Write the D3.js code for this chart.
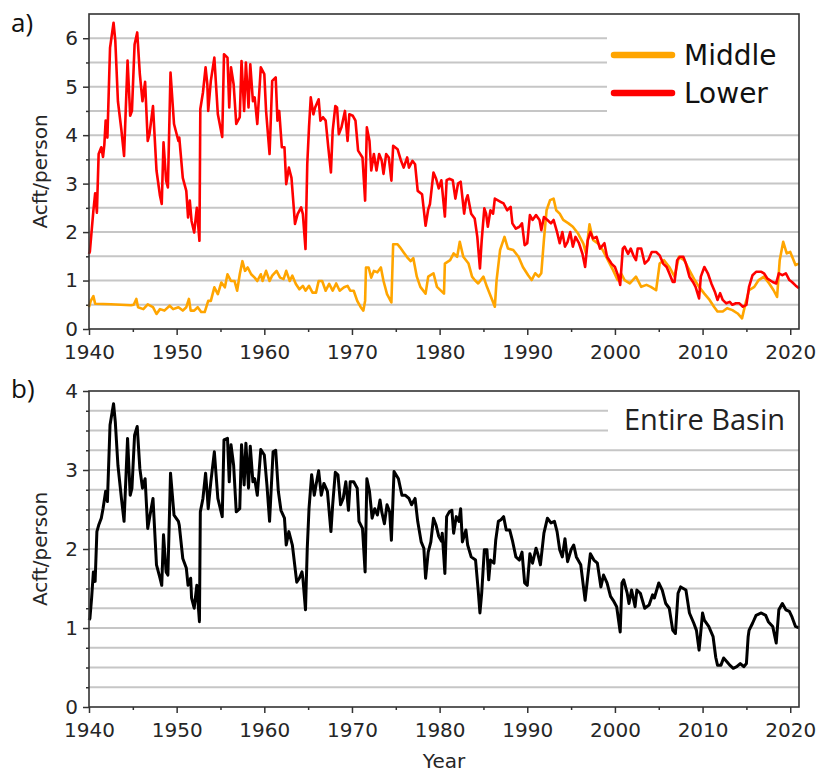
<!DOCTYPE html>
<meta charset="utf-8">
<style>
body { margin: 0; background: #fff; }
svg text { font-family: "DejaVu Sans", sans-serif; fill: #262626; }
.grid line { stroke: #c6c6c6; stroke-width: 2; }
.axis path { display: none; }
.axis line { stroke: #333; stroke-width: 1.5; }
.axis text { font-size: 20px; fill: #262626; }
.frame { fill: none; stroke: #333; stroke-width: 1.6; }
.series { fill: none; stroke-linejoin: round; }
.label { font-size: 20px; }
.legend text { font-size: 28px; fill: #111; }
.panel-tag { font-family: "Open Sans", sans-serif; font-size: 26px; fill: #111; }
.basin-tag { font-family: "Open Sans", sans-serif; font-size: 29px; fill: #222; }
</style>
<body>
<div id="main"></div>
<script src="https://cdn.jsdelivr.net/npm/d3@7"></script>
<script>
// values: [year, acre-feet per person]
var middle = [
	[1940.0,0.45],[1940.2,0.58],[1940.5,0.68],[1940.7,0.52],[1942.5,0.51],[1944.8,0.49],[1945.1,0.5],[1945.4,0.62],
	[1945.6,0.45],[1946.2,0.41],[1946.7,0.51],[1947.3,0.45],[1947.7,0.31],[1948.1,0.41],[1948.6,0.38],[1949.2,0.48],
	[1949.6,0.41],[1950.2,0.45],[1950.7,0.38],[1951.1,0.45],[1951.4,0.62],[1951.6,0.38],[1952.0,0.38],[1952.4,0.45],
	[1952.8,0.35],[1953.2,0.35],[1953.6,0.58],[1953.9,0.58],[1954.3,0.86],[1954.7,0.72],[1955.1,0.96],[1955.5,0.86],
	[1955.8,1.13],[1956.2,0.99],[1956.6,0.99],[1956.9,0.79],[1957.2,1.13],[1957.5,1.4],[1957.8,1.2],[1958.1,1.27],
	[1958.5,1.13],[1958.9,1.06],[1959.2,0.99],[1959.6,1.13],[1959.8,0.99],[1960.2,1.2],[1960.6,0.99],[1960.9,1.1],
	[1961.4,1.2],[1961.8,1.06],[1962.2,1.03],[1962.5,1.2],[1962.9,0.99],[1963.2,1.1],[1963.6,0.93],[1964.0,0.82],
	[1964.4,0.89],[1964.7,0.79],[1965.1,0.89],[1965.5,0.75],[1965.9,0.75],[1966.2,0.99],[1966.6,0.99],[1967.0,0.79],
	[1967.4,0.93],[1967.8,0.79],[1968.2,0.94],[1968.6,0.79],[1969.1,0.86],[1969.5,0.89],[1969.8,0.79],[1970.2,0.79],
	[1970.6,0.58],[1971.0,0.45],[1971.3,0.38],[1971.5,0.58],[1971.6,1.27],[1971.9,1.27],[1972.2,1.06],[1972.5,1.2],
	[1972.9,1.17],[1973.3,1.27],[1973.6,0.99],[1974.0,0.72],[1974.5,0.55],[1974.7,1.75],[1975.2,1.75],[1975.5,1.68],
	[1975.9,1.58],[1976.3,1.48],[1976.7,1.4],[1977.0,1.46],[1977.4,1.08],[1977.8,0.87],[1978.4,0.73],[1978.7,1.08],
	[1979.3,1.15],[1979.7,0.87],[1980.5,0.73],[1980.6,1.35],[1981.2,1.42],[1981.6,1.56],[1982.0,1.49],[1982.3,1.8],
	[1982.7,1.49],[1983.3,1.35],[1983.7,1.08],[1984.0,1.01],[1984.4,0.94],[1985.0,1.08],[1985.4,0.87],[1986.0,0.6],
	[1986.3,0.46],[1986.5,1.01],[1986.9,1.63],[1987.4,1.9],[1987.8,1.66],[1988.4,1.63],[1989.0,1.49],[1989.5,1.28],
	[1990.1,1.11],[1990.5,1.01],[1990.9,1.15],[1991.3,1.08],[1991.6,1.15],[1991.9,1.84],[1992.2,2.45],[1992.6,2.66],
	[1993.0,2.69],[1993.3,2.45],[1993.7,2.38],[1994.1,2.25],[1994.7,2.18],[1995.2,2.11],[1995.8,1.97],[1996.4,1.76],
	[1996.7,1.56],[1997.1,2.16],[1997.5,1.84],[1998.1,1.76],[1998.6,1.63],[1999.2,1.42],[1999.8,1.21],[2000.3,1.01],
	[2000.7,1.15],[2001.1,1.01],[2001.7,0.94],[2002.4,1.08],[2003.0,0.87],[2003.6,0.91],[2004.1,0.87],[2004.7,0.8],
	[2005.1,1.35],[2005.6,1.42],[2006.2,1.28],[2006.8,1.08],[2007.3,1.49],[2007.9,1.42],[2008.5,1.21],[2009.1,1.01],
	[2009.6,0.87],[2010.2,0.73],[2010.8,0.6],[2011.3,0.46],[2011.7,0.36],[2012.3,0.36],[2012.8,0.43],[2013.4,0.39],
	[2014.0,0.32],[2014.5,0.22],[2014.9,0.53],[2015.3,0.8],[2015.9,0.87],[2016.4,1.01],[2017.0,1.08],[2017.6,0.94],
	[2018.1,0.8],[2018.5,0.66],[2018.8,1.42],[2019.2,1.8],[2019.6,1.56],[2020.0,1.59],[2020.6,1.32],[2021.0,1.35]
];

var lower = [
	[1940.0,1.55],[1940.1,1.6],[1940.5,2.44],[1940.7,2.8],[1940.9,2.4],[1941.1,3.61],[1941.4,3.75],[1941.6,3.55],
	[1941.75,3.8],[1941.9,4.3],[1942.1,3.95],[1942.4,5.8],[1942.8,6.32],[1943.0,5.95],[1943.3,4.7],[1943.7,4.1],
	[1944.0,3.57],[1944.4,5.54],[1944.7,4.4],[1944.9,4.5],[1945.2,5.87],[1945.5,6.12],[1945.8,5.26],[1946.1,4.7],
	[1946.4,5.1],[1946.7,3.88],[1946.9,4.02],[1947.3,4.6],[1947.7,3.27],[1948.1,2.75],[1948.3,2.58],[1948.5,3.85],
	[1948.8,3.06],[1949.0,2.92],[1949.3,5.29],[1949.7,4.23],[1950.2,3.88],[1950.3,3.95],[1950.7,3.12],[1951.1,2.85],
	[1951.3,2.3],[1951.5,2.65],[1951.7,2.23],[1952.0,1.99],[1952.3,2.5],[1952.6,1.82],[1952.7,4.54],[1953.0,4.88],
	[1953.3,5.4],[1953.5,5.05],[1953.6,4.5],[1953.9,5.12],[1954.3,5.6],[1954.7,4.43],[1955.2,3.96],[1955.4,5.67],
	[1955.8,5.6],[1956.0,4.57],[1956.2,5.4],[1956.5,5.05],[1956.8,4.23],[1957.2,4.37],[1957.4,5.53],[1957.7,4.5],
	[1957.9,5.5],[1958.2,4.57],[1958.4,5.46],[1958.7,4.7],[1958.9,4.78],[1959.2,4.23],[1959.6,5.4],[1960.0,5.26],
	[1960.2,4.5],[1960.6,3.61],[1960.9,5.12],[1961.3,5.19],[1961.5,4.3],[1961.7,4.5],[1962.0,3.75],[1962.3,3.75],
	[1962.5,2.99],[1962.8,3.33],[1963.1,3.12],[1963.5,2.17],[1963.8,2.37],[1964.2,2.51],[1964.4,2.37],[1964.7,1.65],
	[1964.9,3.4],[1965.1,4.16],[1965.3,4.78],[1965.6,4.43],[1965.8,4.57],[1966.2,4.74],[1966.4,4.3],[1966.7,4.37],
	[1967.0,4.3],[1967.3,3.75],[1967.6,3.23],[1967.8,4.09],[1968.1,4.6],[1968.3,4.57],[1968.5,4.02],[1968.8,4.16],
	[1969.2,4.5],[1969.5,3.88],[1969.7,4.43],[1970.1,4.4],[1970.4,4.3],[1970.7,3.68],[1971.2,3.54],[1971.5,2.65],
	[1971.7,4.16],[1972.0,3.88],[1972.2,3.27],[1972.5,3.61],[1972.8,3.27],[1973.1,3.61],[1973.4,3.47],[1973.6,3.2],
	[1973.9,3.61],[1974.2,3.54],[1974.5,3.06],[1974.7,3.78],[1975.2,3.71],[1975.6,3.47],[1975.9,3.33],[1976.3,3.54],
	[1976.5,3.33],[1976.9,3.47],[1977.2,3.4],[1977.5,2.85],[1978.0,2.78],[1978.4,2.13],[1978.7,2.47],[1978.9,2.58],
	[1979.3,3.23],[1979.6,3.1],[1979.9,2.9],[1980.2,3.07],[1980.6,2.32],[1980.8,3.07],[1981.1,3.1],[1981.5,3.07],
	[1981.8,2.69],[1982.1,3.0],[1982.4,3.04],[1982.8,2.38],[1983.0,2.66],[1983.2,2.76],[1983.6,2.38],[1984.0,2.28],
	[1984.3,1.9],[1984.6,1.25],[1984.8,1.83],[1985.1,2.49],[1985.3,2.38],[1985.5,2.11],[1985.8,2.45],[1986.1,2.38],
	[1986.3,2.69],[1986.6,2.66],[1987.0,2.62],[1987.3,2.59],[1987.7,2.45],[1988.1,2.52],[1988.3,2.18],[1988.7,2.07],
	[1989.1,2.11],[1989.4,2.18],[1989.7,1.73],[1990.0,1.77],[1990.3,2.35],[1990.6,2.25],[1991.0,2.35],[1991.4,2.25],
	[1991.6,2.04],[1991.9,2.31],[1992.3,2.25],[1992.7,2.18],[1993.0,2.25],[1993.4,2.0],[1993.7,1.77],[1994.0,2.0],
	[1994.3,1.7],[1994.6,1.8],[1994.9,2.0],[1995.2,1.7],[1995.5,1.9],[1995.9,1.77],[1996.3,1.55],[1996.6,1.28],
	[1996.9,1.83],[1997.2,2.0],[1997.5,1.87],[1997.9,1.9],[1998.3,1.66],[1998.8,1.77],[1999.1,1.49],[1999.6,1.35],
	[2000.0,1.28],[2000.4,1.08],[2000.6,0.91],[2000.9,1.66],[2001.1,1.7],[2001.5,1.55],[2001.8,1.66],[2002.1,1.52],
	[2002.4,1.42],[2002.6,1.66],[2003.0,1.66],[2003.4,1.35],[2003.8,1.42],[2004.2,1.59],[2004.7,1.59],[2005.1,1.52],
	[2005.5,1.35],[2005.9,1.28],[2006.2,1.15],[2006.6,0.97],[2006.8,0.97],[2007.1,1.42],[2007.4,1.49],[2007.8,1.49],
	[2008.1,1.35],[2008.5,1.08],[2008.9,0.97],[2009.2,0.87],[2009.6,0.63],[2009.8,1.08],[2010.2,1.28],[2010.6,1.15],
	[2011.0,0.94],[2011.4,0.77],[2011.7,0.6],[2012.0,0.74],[2012.3,0.6],[2012.7,0.53],[2013.1,0.56],[2013.4,0.5],
	[2013.8,0.53],[2014.2,0.53],[2014.6,0.46],[2015.0,0.5],[2015.3,0.87],[2015.7,1.11],[2016.1,1.18],[2016.7,1.18],
	[2017.0,1.15],[2017.4,1.04],[2018.0,0.97],[2018.4,0.94],[2018.7,1.15],[2019.1,1.11],[2019.5,1.15],[2019.9,1.01],
	[2020.2,0.97],[2020.6,0.9],[2021.0,0.84]
];

var basin = [
	[1940.0,1.1],[1940.1,1.12],[1940.3,1.38],[1940.5,1.71],[1940.7,1.59],[1940.9,2.22],[1941.1,2.3],[1941.4,2.39],
	[1941.6,2.51],[1941.9,2.73],[1942.1,2.6],[1942.4,3.57],[1942.8,3.84],[1943.0,3.61],[1943.3,3.06],[1943.7,2.64],
	[1944.0,2.35],[1944.4,3.4],[1944.7,2.68],[1944.9,2.77],[1945.2,3.44],[1945.5,3.55],[1945.8,3.02],[1946.1,2.77],
	[1946.4,2.89],[1946.7,2.26],[1946.9,2.39],[1947.3,2.64],[1947.7,1.8],[1948.1,1.63],[1948.3,1.54],[1948.5,2.18],
	[1948.8,1.71],[1949.0,1.67],[1949.3,2.96],[1949.7,2.43],[1950.2,2.35],[1950.3,2.3],[1950.7,1.88],[1951.1,1.76],
	[1951.3,1.54],[1951.6,1.63],[1951.7,1.38],[1952.0,1.25],[1952.3,1.54],[1952.6,1.08],[1952.7,2.47],[1953.0,2.64],
	[1953.3,2.96],[1953.5,2.68],[1953.6,2.51],[1953.9,2.85],[1954.3,3.23],[1954.7,2.64],[1955.2,2.41],[1955.4,3.38],
	[1955.8,3.4],[1956.0,2.85],[1956.2,3.32],[1956.5,3.06],[1956.8,2.47],[1957.2,2.51],[1957.4,3.32],[1957.7,2.81],
	[1957.9,3.34],[1958.2,2.77],[1958.4,3.3],[1958.7,2.85],[1958.9,2.89],[1959.2,2.68],[1959.6,3.26],[1960.0,3.19],
	[1960.3,2.81],[1960.6,2.35],[1961.0,3.23],[1961.3,3.25],[1961.6,2.73],[1961.9,2.49],[1962.3,2.39],[1962.5,2.05],
	[1962.8,2.22],[1963.2,2.05],[1963.7,1.58],[1964.0,1.63],[1964.3,1.71],[1964.4,1.63],[1964.7,1.23],[1964.9,2.01],
	[1965.1,2.51],[1965.4,2.94],[1965.7,2.68],[1965.9,2.81],[1966.2,2.99],[1966.5,2.68],[1966.8,2.83],[1967.2,2.73],
	[1967.6,2.22],[1967.8,2.56],[1968.1,2.97],[1968.4,2.94],[1968.7,2.56],[1969.0,2.64],[1969.3,2.85],[1969.6,2.49],
	[1969.8,2.85],[1970.2,2.85],[1970.6,2.77],[1970.8,2.35],[1971.2,2.26],[1971.5,1.71],[1971.7,2.89],[1972.0,2.73],
	[1972.3,2.39],[1972.6,2.51],[1972.9,2.43],[1973.2,2.62],[1973.4,2.47],[1973.7,2.32],[1974.0,2.56],[1974.3,2.47],
	[1974.5,2.11],[1974.8,2.98],[1975.3,2.89],[1975.7,2.68],[1976.1,2.68],[1976.5,2.64],[1976.8,2.56],[1977.2,2.64],
	[1977.5,2.35],[1977.9,2.09],[1978.2,2.01],[1978.4,1.63],[1978.7,1.96],[1979.0,2.09],[1979.3,2.39],[1979.6,2.3],
	[1979.9,2.16],[1980.2,2.1],[1980.3,2.2],[1980.6,1.69],[1980.8,2.41],[1981.1,2.47],[1981.4,2.49],[1981.6,2.2],
	[1981.9,2.41],[1982.2,2.35],[1982.4,2.51],[1982.6,2.09],[1983.0,2.24],[1983.2,2.05],[1983.6,1.9],[1984.1,1.86],
	[1984.4,1.48],[1984.6,1.19],[1984.8,1.44],[1985.1,1.99],[1985.4,1.99],[1985.6,1.61],[1985.8,1.86],[1986.2,1.82],
	[1986.4,2.11],[1986.7,2.35],[1987.0,2.37],[1987.3,2.41],[1987.6,2.24],[1988.0,2.24],[1988.3,2.11],[1988.7,1.9],
	[1989.1,1.86],[1989.4,1.96],[1989.7,1.57],[1990.0,1.54],[1990.3,1.94],[1990.6,1.82],[1991.0,2.01],[1991.2,1.94],
	[1991.5,1.8],[1991.9,2.2],[1992.3,2.39],[1992.7,2.33],[1993.1,2.35],[1993.4,2.22],[1993.7,1.99],[1994.0,1.9],
	[1994.3,2.13],[1994.6,1.84],[1995.0,1.99],[1995.3,2.05],[1995.6,1.9],[1996.1,1.8],[1996.6,1.35],[1996.9,1.65],
	[1997.2,1.94],[1997.6,1.86],[1998.0,1.82],[1998.4,1.52],[1998.7,1.67],[1999.1,1.57],[1999.5,1.4],[1999.8,1.35],
	[2000.2,1.27],[2000.6,0.95],[2000.8,1.57],[2001.0,1.61],[2001.4,1.44],[2001.6,1.31],[2001.9,1.48],[2002.3,1.27],
	[2002.5,1.48],[2002.9,1.44],[2003.4,1.25],[2003.9,1.29],[2004.3,1.42],[2004.5,1.38],[2005.0,1.57],[2005.4,1.48],
	[2005.8,1.31],[2006.2,1.25],[2006.6,0.97],[2006.9,0.93],[2007.2,1.44],[2007.5,1.52],[2008.1,1.48],[2008.5,1.19],
	[2009.0,1.06],[2009.3,0.97],[2009.6,0.72],[2010.0,1.19],[2010.2,1.1],[2010.7,1.02],[2011.2,0.89],[2011.5,0.63],
	[2011.7,0.53],[2012.1,0.53],[2012.4,0.62],[2012.8,0.57],[2013.1,0.53],[2013.5,0.49],[2013.9,0.51],[2014.3,0.55],
	[2014.7,0.51],[2015.0,0.55],[2015.2,0.89],[2015.3,0.97],[2015.7,1.06],[2016.1,1.16],[2016.7,1.19],[2017.2,1.16],
	[2017.5,1.08],[2018.0,1.02],[2018.4,0.81],[2018.7,1.23],[2019.1,1.31],[2019.5,1.23],[2019.9,1.21],[2020.2,1.14],
	[2020.6,1.02],[2021.0,1.0]
];

var yearTicks = [1940, 1950, 1960, 1970, 1980, 1990, 2000, 2010, 2020];
var yearMinor = [1945, 1955, 1965, 1975, 1985, 1995, 2005, 2015];
var ticksA = [0, 1, 2, 3, 4, 5, 6];
var ticksB = [0, 1, 2, 3, 4];
var legendNames = ["Middle", "Lower"];
var colors = { Middle: "#ffa500", Lower: "#ff0000", basin: "#000000" };

var svg = d3.select("#main").append("svg")
	.attr("width", 822)
	.attr("height", 775);

var left = 89, right = 799;
var x = d3.scaleLinear().domain([1940, 2021]).range([left, right]);

// draws one panel: grid, cover box for the legend, axes, frame
function panel(top, bottom, ymax, gridStep, ticks, coverX, coverBottom) {
	var y = d3.scaleLinear().domain([0, ymax]).range([bottom, top]);
	var g = svg.append("g");

	g.append("g").attr("class", "grid")
		.selectAll("line")
		.data(d3.range(gridStep, ymax - 1e-9, gridStep))
		.enter().append("line")
		.attr("x1", left).attr("x2", right)
		.attr("y1", function(d) { return y(d); })
		.attr("y2", function(d) { return y(d); });

	// white box behind the legend text
	g.append("rect")
		.attr("x", coverX).attr("y", top)
		.attr("width", right - coverX).attr("height", coverBottom - top)
		.attr("fill", "#fff");

	g.append("g").attr("class", "axis")
		.attr("transform", "translate(0," + bottom + ")")
		.call(d3.axisBottom(x).tickValues(yearTicks).tickFormat(d3.format("d")).tickSize(6).tickPadding(10));
	g.append("g").attr("class", "axis")
		.attr("transform", "translate(0," + bottom + ")")
		.call(d3.axisBottom(x).tickValues(yearMinor).tickFormat("").tickSize(3));

	var minor = d3.range(gridStep, ymax - 1e-9, gridStep).filter(function(d) { return ticks.indexOf(d) < 0; });
	g.append("g").attr("class", "axis")
		.attr("transform", "translate(" + left + ",0)")
		.call(d3.axisLeft(y).tickValues(ticks).tickFormat(d3.format("d")).tickSize(6).tickPadding(5));
	g.append("g").attr("class", "axis")
		.attr("transform", "translate(" + left + ",0)")
		.call(d3.axisLeft(y).tickValues(minor).tickFormat("").tickSize(3));

	g.append("text").attr("class", "label")
		.attr("transform", "translate(40," + ((top + bottom) / 2) + ") rotate(-90)")
		.attr("text-anchor", "middle")
		.attr("dy", "0.35em")
		.text("Acft/person");

	return { g: g, y: y, top: top, bottom: bottom };
}

function drawLine(p, data, color, width) {
	var line = d3.line()
		.x(function(d) { return x(d[0]); })
		.y(function(d) { return p.y(d[1]); });
	p.g.append("path")
		.attr("class", "series")
		.attr("d", line(data))
		.attr("stroke", color)
		.attr("stroke-width", width);
}

function frame(p) {
	p.g.append("rect").attr("class", "frame")
		.attr("x", left).attr("y", p.top)
		.attr("width", right - left).attr("height", p.bottom - p.top);
}

// panel a
var pa = panel(14, 329, 6.5, 0.5, ticksA, 607, 120);
drawLine(pa, middle, colors.Middle, 2.6);
drawLine(pa, lower, colors.Lower, 2.6);
frame(pa);

var legend = pa.g.append("g").attr("class", "legend");
legendNames.forEach(function(name, i) {
	var ly = 55 + i * 38;
	legend.append("line")
		.attr("x1", 614).attr("x2", 672)
		.attr("y1", ly).attr("y2", ly)
		.attr("stroke", colors[name])
		.attr("stroke-width", 6.5)
		.attr("stroke-linecap", "round");
	legend.append("text")
		.attr("x", 684).attr("y", ly)
		.attr("dy", "0.36em")
		.text(name);
});

svg.append("text").attr("class", "panel-tag").attr("x", 11).attr("y", 32).text("a)");

// panel b
var pb = panel(391, 707, 4, 0.25, ticksB, 608, 444);
drawLine(pb, basin, colors.basin, 3);
frame(pb);

svg.append("text").attr("class", "basin-tag").attr("x", 624).attr("y", 430).text("Entire Basin");
svg.append("text").attr("class", "panel-tag").attr("x", 11).attr("y", 398).text("b)");

svg.append("text").attr("class", "label")
	.attr("x", (left + right) / 2).attr("y", 768)
	.attr("text-anchor", "middle")
	.text("Year");
</script>
</body>
